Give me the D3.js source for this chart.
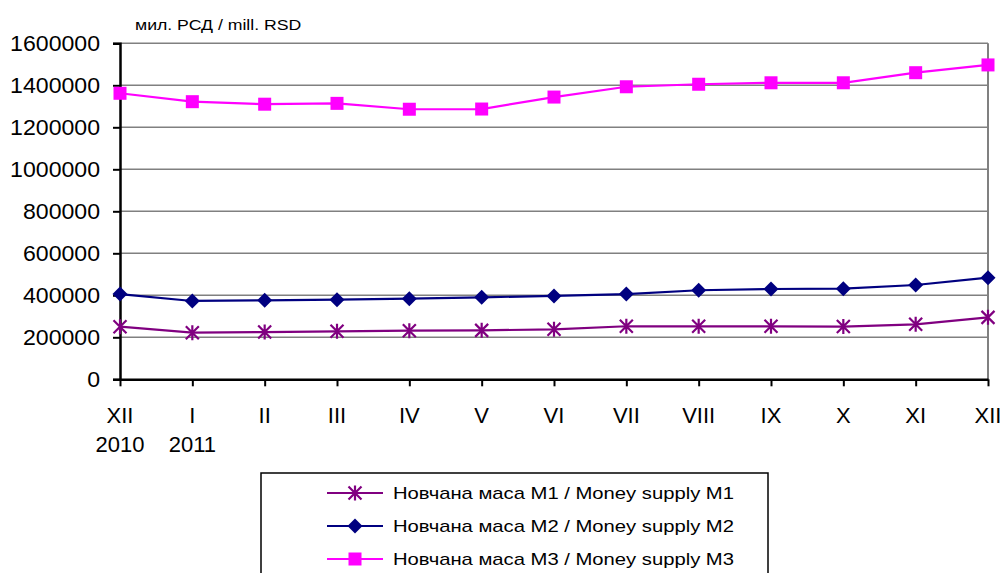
<!DOCTYPE html>
<html><head><meta charset="utf-8">
<script src="https://cdn.jsdelivr.net/npm/d3@7"></script>
<style>body{margin:0;background:#fff}svg{display:block;font-family:"Liberation Sans",Arial,sans-serif}</style>
</head><body><svg id="c" width="1003" height="573"></svg>
<script>
const months = ["XII","I","II","III","IV","V","VI","VII","VIII","IX","X","XI","XII"];
const years = ["2010","2011","","","","","","","","","","",""];
const m1 = [250500,222000,225000,228500,231500,233000,238000,252500,252500,252500,251000,262000,295000];
const m2 = [406000,373000,376000,379000,384000,390500,397000,406000,424000,430000,431500,449000,484000];
const m3 = [1362000,1322000,1310000,1314000,1286000,1287000,1344000,1393000,1405000,1412000,1412000,1460000,1497000];
const yTicks = [0,200000,400000,600000,800000,1000000,1200000,1400000,1600000];
const seriesNames = ["Новчана маса M1 / Money supply M1","Новчана маса M2 / Money supply M2","Новчана маса M3 / Money supply M3"];
const unitLabel = "мил. РСД / mill. RSD";

const svg = d3.select("#c");
const L=120, R=988, T=43.3, B=379.3;
const idx = months.map((d,i)=>i);
const x = d3.scalePoint().domain(idx).range([L,R]);
const y = d3.scaleLinear().domain([0,1600000]).range([B,T]);

// gridlines
svg.append("g").selectAll("line").data(yTicks.filter(d=>d>0)).join("line")
  .attr("x1",L).attr("x2",R).attr("y1",d=>y(d)).attr("y2",d=>y(d))
  .attr("stroke","#808080").attr("stroke-width",1.5);
svg.append("line").attr("x1",R).attr("x2",R).attr("y1",T).attr("y2",B)
  .attr("stroke","#808080").attr("stroke-width",2);

// y axis
const ya = svg.append("g").attr("transform",`translate(${L},0)`)
  .call(d3.axisLeft(y).tickValues(yTicks).tickFormat(d3.format("d")).tickSize(7).tickPadding(13));
ya.select(".domain").attr("stroke","#000").attr("stroke-width",2.5);
ya.selectAll(".tick line").attr("stroke","#000").attr("stroke-width",2);
ya.selectAll("text").attr("font-size",22).attr("fill","#000").attr("font-family","Liberation Sans, Arial, sans-serif")
  .attr("transform","scale(1.05,1)").attr("x",-20/1.05);

// x axis
const xa = svg.append("g").attr("transform",`translate(0,${B})`)
  .call(d3.axisBottom(x).tickFormat(()=>"").tickSize(7).tickSizeOuter(0));
xa.select(".domain").attr("stroke","#000").attr("stroke-width",2.5);
xa.selectAll(".tick line").attr("stroke","#000").attr("stroke-width",2);
svg.append("g").selectAll("text").data(idx).join("text")
  .attr("x",d=>x(d)).attr("y",423).attr("text-anchor","middle")
  .attr("font-size",22).text(d=>months[d]);
svg.append("g").selectAll("text").data(idx.filter(i=>years[i])).join("text")
  .attr("x",d=>x(d)).attr("y",452).attr("text-anchor","middle")
  .attr("font-size",22).text(d=>years[d]);

svg.append("text").attr("transform","translate(135,30) scale(1.14,1)").attr("font-size",15.5).text(unitLabel);

const series = [
  {v:m1,color:"#800080",marker:"star"},
  {v:m2,color:"#000080",marker:"diamond"},
  {v:m3,color:"#FF00FF",marker:"square"}
];
function drawMarker(g,type,color){
  if(type==="square"){
    g.append("rect").attr("x",-6.5).attr("y",-6.5).attr("width",13).attr("height",13).attr("fill",color);
  } else if(type==="diamond"){
    g.append("path").attr("d","M0,-7.5L7.5,0L0,7.5L-7.5,0Z").attr("fill",color);
  } else {
    const s=6.5;
    g.append("path").attr("d",`M${-s},${-s}L${s},${s}M${-s},${s}L${s},${-s}M0,${-s-1}L0,${s+1}`)
      .attr("stroke",color).attr("stroke-width",2.2).attr("fill","none");
  }
}
const line = d3.line().x((d,i)=>x(i)).y(d=>y(d));
series.forEach(s=>{
  svg.append("path").datum(s.v).attr("d",line).attr("fill","none")
    .attr("stroke",s.color).attr("stroke-width",2.2);
  s.v.forEach((v,i)=>{
    const g = svg.append("g").attr("transform",`translate(${x(i)},${y(v)})`);
    drawMarker(g,s.marker,s.color);
  });
});

// legend
const lg = svg.append("g");
lg.append("rect").attr("x",261).attr("y",473).attr("width",507).attr("height",110)
  .attr("fill","#fff").attr("stroke","#000").attr("stroke-width",1.5);
const rowsY=[493,526,559];
series.forEach((s,i)=>{
  lg.append("line").attr("x1",327).attr("x2",383).attr("y1",rowsY[i]).attr("y2",rowsY[i])
    .attr("stroke",s.color).attr("stroke-width",2.2);
  const g = lg.append("g").attr("transform",`translate(355,${rowsY[i]})`);
  drawMarker(g,s.marker,s.color);
  lg.append("text").attr("transform",`translate(393,${rowsY[i]+6}) scale(1.19,1)`).attr("font-size",17).text(seriesNames[i]);
});
</script></body></html>
